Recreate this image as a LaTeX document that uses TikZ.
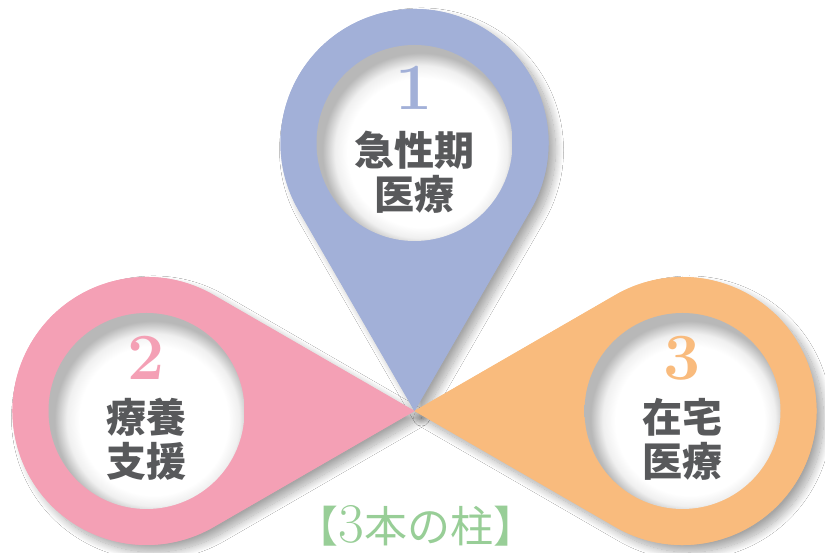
\documentclass[tikz,border=0pt]{standalone}
\usepackage{fontspec}
\newfontfamily\cjk{Noto Sans CJK JP}
\usetikzlibrary{calc,shadows.blur}
\definecolor{pinblue}{HTML}{A2B0D8}
\definecolor{pinpink}{HTML}{F4A0B5}
\definecolor{pinorange}{HTML}{F9BB7D}
\definecolor{titlegreen}{HTML}{98CE97}
\definecolor{txtgrey}{HTML}{58595B}
\pgfdeclareradialshading{inset}{\pgfpoint{3bp}{-4bp}}{color(0bp)=(white); color(19bp)=(white); color(22bp)=(black!6); color(25bp)=(black!28); color(50bp)=(black!28)}
\begin{document}
\begin{tikzpicture}[x=1pt,y=1pt,
  pinshadow/.style={blur shadow={shadow xshift=7pt,shadow yshift=-7pt,shadow blur radius=8pt,shadow opacity=35,shadow blur steps=16}},
  numtext/.style={font=\fontsize{66}{66}\selectfont\bfseries, inner sep=0pt},
  jptext/.style={font=\fontsize{40}{44}\selectfont\cjk\bfseries, text=txtgrey, align=center, inner sep=0pt},
  hole/.style={shading=inset}]
\useasboundingbox (0,0) rectangle (825,553);
\fill[white] (0,0) rectangle (825,553);
\coordinate (T) at (414.5,142);
\coordinate (B) at (414.5,410);
\coordinate (P) at (146.5,142);
\coordinate (O) at (682.5,142);
\def\bluepin{(T) -- ($(B)+(-30:134)$) arc[start angle=-30,end angle=210,radius=134] -- cycle}
\def\pinkpin{(T) -- ($(P)+(60:134)$) arc[start angle=60,end angle=300,radius=134] -- cycle}
\def\orangepin{(T) -- ($(O)+(240:134)$) arc[start angle=240,end angle=480,radius=134] -- cycle}
% shadows
\fill[pinblue,pinshadow] \bluepin;
\fill[pinpink,pinshadow] \pinkpin;
\fill[pinorange,pinshadow] \orangepin;
% pins on top of all shadows
\fill[pinblue] \bluepin;
\fill[pinorange] \orangepin;
\fill[pinpink] \pinkpin;
% holes
\shade[hole] (B) circle[radius=98];
\shade[hole] (P) circle[radius=98];
\shade[hole] (O) circle[radius=98];
% texts
\node[numtext,text=pinblue] (n1) at (414.5,465) {1};
\node[jptext] (t1) at (414.5,381) {急性期\\医療};
\node[numtext,text=pinpink] (n2) at (146.5,195) {2};
\node[jptext] (t2) at (146.5,114) {療養\\支援};
\node[numtext,text=pinorange] (n3) at (682.5,195) {3};
\node[jptext] (t3) at (682.5,114) {在宅\\医療};
\node[font=\fontsize{43}{43}\selectfont, text=titlegreen, inner sep=0pt, anchor=base] (title) at (416,10) {{\cjk 【}{\fontsize{56}{56}\selectfont 3}{\cjk 本の柱】}};
\end{tikzpicture}
\end{document}
